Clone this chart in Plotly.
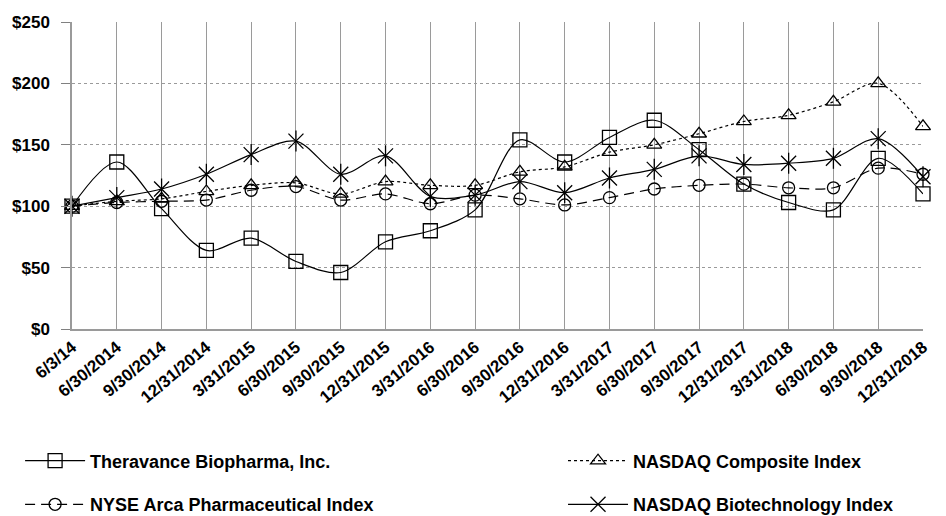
import plotly.graph_objects as go

dates = ["6/3/14", "6/30/2014", "9/30/2014", "12/31/2014", "3/31/2015", "6/30/2015",
         "9/30/2015", "12/31/2015", "3/31/2016", "6/30/2016", "9/30/2016", "12/31/2016",
         "3/31/2017", "6/30/2017", "9/30/2017", "12/31/2017", "3/31/2018", "6/30/2018",
         "9/30/2018", "12/31/2018"]

theravance = [100, 136, 98, 64, 74, 55, 46, 71, 80, 97, 154, 136, 156, 170, 146, 118, 103, 97, 139, 110]
nasdaq_composite = [100, 104, 106, 112, 117, 119, 110, 120, 117, 117, 128, 132, 144, 150, 159, 169, 174, 185, 200, 165]
nyse_arca_pharma = [100, 103, 104, 105, 113, 116, 105, 110, 102, 109, 106, 101, 107, 114, 117, 118, 115, 115, 131, 126]
nasdaq_biotech = [100, 107, 114, 126, 142, 153, 126, 141, 108, 109, 120, 111, 123, 130, 141, 134, 135, 139, 155, 124]

series_names = ["Theravance Biopharma, Inc.", "NASDAQ Composite Index",
                "NYSE Arca Pharmaceutical Index", "NASDAQ Biotechnology Index"]

FONT = "Liberation Sans, Arial, sans-serif"
LINE = dict(color="black", width=1.2, shape="spline", smoothing=0.9)
GRID = "#9a9a9a"

fig = go.Figure()

fig.add_trace(go.Scatter(
    x=dates, y=theravance, name=series_names[0], mode="lines+markers",
    line=dict(LINE, dash="solid"),
    marker=dict(symbol="square-open", size=14, color="black", line=dict(width=1.3)),
    cliponaxis=False, legend="legend"))

fig.add_trace(go.Scatter(
    x=dates, y=nasdaq_composite, name=series_names[1], mode="lines+markers",
    line=dict(LINE, dash="dot"),
    marker=dict(symbol="triangle-up-open", size=13, color="black", line=dict(width=1.3)),
    cliponaxis=False, legend="legend2"))

fig.add_trace(go.Scatter(
    x=dates, y=nyse_arca_pharma, name=series_names[2], mode="lines+markers",
    line=dict(LINE, dash="10px,6px"),
    marker=dict(symbol="circle-open", size=12, color="black", line=dict(width=1.3)),
    cliponaxis=False, legend="legend3"))

fig.add_trace(go.Scatter(
    x=dates, y=nasdaq_biotech, name=series_names[3], mode="lines+markers",
    line=dict(LINE, dash="solid"),
    marker=dict(symbol="x-thin-open", size=15, color="black", line=dict(width=1.3)),
    cliponaxis=False, legend="legend4"))

# vertical stroke of the six-armed asterisk markers
fig.add_trace(go.Scatter(
    x=dates, y=nasdaq_biotech, mode="markers", showlegend=False, hoverinfo="skip",
    marker=dict(symbol="line-ns-open", size=15, color="black", line=dict(width=1.3)),
    cliponaxis=False))

legend_common = dict(
    orientation="h", xanchor="left", yanchor="middle",
    font=dict(family=FONT, size=18, color="black", weight="bold"),
    itemwidth=60,
    bgcolor="rgba(0,0,0,0)", borderwidth=0,
)

COL1, COL2 = -0.061, 0.577
ROW1, ROW2 = -0.43, -0.572

# the page has an 8px body margin, so the figure is 8px smaller than the window
fig.update_layout(
    width=938, height=508,
    margin=dict(l=64, r=23, t=14, b=187, autoexpand=False),
    paper_bgcolor="white", plot_bgcolor="white",
    font=dict(family=FONT, color="black"),
    legend=dict(legend_common, x=COL1, y=ROW1),
    legend2=dict(legend_common, x=COL2, y=ROW1),
    legend3=dict(legend_common, x=COL1, y=ROW2),
    legend4=dict(legend_common, x=COL2, y=ROW2),
    xaxis=dict(
        type="category", range=[0, len(dates) - 1],
        showgrid=True, gridcolor=GRID, gridwidth=1.3,
        showline=True, linecolor=GRID, linewidth=1.5,
        ticks="", tickangle=-40,
        tickfont=dict(family=FONT, size=17, color="black", weight="bold"),
        zeroline=False,
    ),
    yaxis=dict(
        range=[0, 250], dtick=50, tickprefix="$",
        showgrid=True, gridcolor=GRID, gridwidth=1, griddash="dot",
        showline=True, linecolor=GRID, linewidth=1.5,
        ticks="outside", ticklen=9, tickcolor="#808080", ticklabelstandoff=8,
        tickfont=dict(family=FONT, size=17, color="black", weight="bold"),
        zeroline=False,
    ),
)

fig.write_html("out.html")
